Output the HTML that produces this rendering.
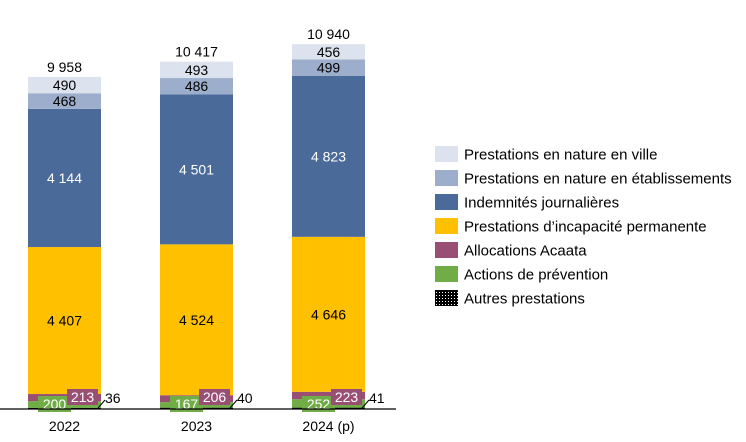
<!DOCTYPE html>
<html><head><meta charset="utf-8"><style>
body{margin:0;background:#fff}
svg{font-family:"Liberation Sans",Arial,sans-serif;display:block}
</style></head><body>
<svg id="chart" width="746" height="442">
<defs><pattern id="dots" width="3" height="3" patternUnits="userSpaceOnUse"><rect width="3" height="3" fill="#000"/><rect x="1" y="1" width="1" height="1" fill="#fff"/></pattern></defs>
<g id="bars"></g>
<line x1="0" y1="409" x2="396" y2="409" stroke="#000" stroke-width="1.3"/>
<g id="legend"></g>
</svg>
<script>
const categories=["2022","2023","2024 (p)"];
const seriesNames=["Autres prestations","Actions de prévention","Allocations Acaata","Prestations d’incapacité permanente","Indemnités journalières","Prestations en nature en établissements","Prestations en nature en ville"];
const autres=[36,40,41];
const prevention=[200,167,252];
const acaata=[213,206,223];
const incapacite=[4407,4524,4646];
const ij=[4144,4501,4823];
const etab=[468,486,499];
const ville=[490,493,456];
const totals=["9 958","10 417","10 940"];
const series=[autres,prevention,acaata,incapacite,ij,etab,ville];
const colors=["url(#dots)","#70ad47","#984f73","#ffc000","#4a6b9a","#9caecb","#dde3ee"];
const NS="http://www.w3.org/2000/svg";
const base=409,k=0.03335,bw=73;
const xc=i=>64.5+i*132;
const y=v=>base-v*k;
const fmt=v=>v>=1000?Math.floor(v/1000)+" "+String(v%1000).padStart(3,"0"):String(v);
function mk(t,a,p){const e=document.createElementNS(NS,t);for(const key in a)e.setAttribute(key,a[key]);p.appendChild(e);return e;}
const g=document.getElementById("bars");
categories.forEach((c,i)=>{
  let cum=0;const x0=xc(i)-bw/2;
  series.forEach((s,j)=>{
    const v=s[i];
    const r=mk("rect",{x:x0,y:y(cum+v),width:bw,height:v*k,fill:colors[j]},g);
    
    
    const mid=y(cum+v/2);
    if(j>=3){
      const t=mk("text",{x:xc(i),y:mid+5,"text-anchor":"middle","font-size":14,fill:j==4?"#fff":"#000"},g);
      t.textContent=fmt(v);
      
      
    }
    cum+=v;
  });
  // small labels
  const bp=mk("rect",{x:x0+10,y:396,width:33,height:16,fill:"#70ad47"},g);
  
  
  const tp=mk("text",{x:x0+26.5,y:409,"text-anchor":"middle","font-size":14,fill:"#fff"},g);
  tp.textContent=prevention[i];
  
  
  const ba=mk("rect",{x:x0+39,y:389,width:31,height:16,fill:"#984f73"},g);
  
  
  const ta=mk("text",{x:x0+54.5,y:402,"text-anchor":"middle","font-size":14,fill:"#fff"},g);
  ta.textContent=acaata[i];
  
  
  const ln=mk("line",{x1:x0+70,y1:408,x2:x0+77,y2:400,stroke:"#000"},g);
  
  
  const to=mk("text",{x:x0+77,y:403,"font-size":14,fill:"#000"},g);
  to.textContent=autres[i];
  
  
  let tot=0;series.forEach(s=>tot+=s[i]);
  const tt=mk("text",{x:xc(i),y:y(tot)-5,"text-anchor":"middle","font-size":14,fill:"#000"},g);
  tt.textContent=totals[i];
  
  
  const cl=mk("text",{x:xc(i),y:431,"text-anchor":"middle","font-size":14,fill:"#000"},g);
  cl.textContent=c;
  
  
});
const lg=document.getElementById("legend");
for(let j=6;j>=0;j--){
  const row=6-j, yy=146+row*24;
  const sw=mk("rect",{x:435,y:yy,width:23,height:16,fill:colors[j]},lg);
  
  
  const t=mk("text",{x:464,y:yy+13.5,"font-size":15,fill:"#000"},lg);
  t.textContent=seriesNames[j];
  
  
}
</script>
</body></html>
